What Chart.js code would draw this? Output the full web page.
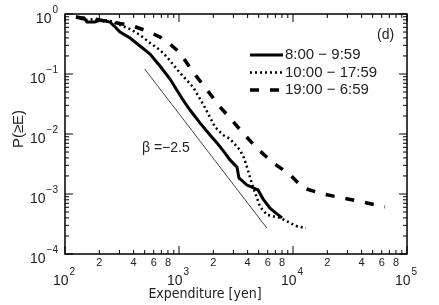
<!DOCTYPE html>
<html>
<head>
<meta charset="utf-8">
<script src="https://cdn.jsdelivr.net/npm/chart.js@4.4.1/dist/chart.umd.min.js"></script>
<style>
  body { margin: 0; background: #fff; }
  #wrap { width: 439px; height: 305px; }
</style>
</head>
<body>
<div id="wrap"><canvas id="ccdf"></canvas></div>
<script>
// series names
var seriesNames = ['8:00 \u2212 9:59', '10:00 \u2212 17:59', '19:00 \u2212 6:59'];

// 8:00 - 9:59
var morningE = [125, 147, 156, 183, 203, 224, 248, 275, 304, 372, 455, 557, 681, 834, 1084, 1249, 1527, 1870, 2154, 2533, 2800, 3228, 3358, 3948, 4930, 5455, 6283, 7096, 8016];
var morningP = [0.891, 0.858, 0.735, 0.735, 0.794, 0.764, 0.735, 0.607, 0.501, 0.398, 0.293, 0.215, 0.136, 0.0825, 0.0369, 0.0251, 0.0153, 0.0096, 0.0071, 0.0048, 0.0037, 0.0028, 0.00185, 0.00141, 0.00117, 0.00083, 0.00058, 0.00048, 0.0004];

// 10:00 - 17:59
var dayE = [125, 150, 183, 203, 238, 264, 304, 372, 455, 557, 681, 785, 1021, 1328, 1625, 2070, 2433, 2800, 3426, 3716, 3948, 4455, 4829, 5138, 5914, 7691, 10838, 13000];
var dayP = [0.891, 0.794, 0.825, 0.764, 0.794, 0.735, 0.655, 0.562, 0.447, 0.329, 0.251, 0.192, 0.104, 0.0607, 0.0316, 0.0131, 0.0096, 0.0083, 0.0054, 0.0040, 0.0028, 0.00131, 0.00086, 0.00061, 0.00045, 0.0004, 0.00029, 0.00027];

// 19:00 - 6:59
var nightE = [125, 150, 183, 248, 372, 524, 681, 834, 1021, 1328, 1762, 2291, 2800, 3637, 4829, 6683, 9423, 12250, 18330, 26900, 40300, 64100];
var nightP = [0.891, 0.825, 0.825, 0.735, 0.655, 0.521, 0.414, 0.316, 0.224, 0.108, 0.0541, 0.0282, 0.0185, 0.0104, 0.0058, 0.0033, 0.0021, 0.00126, 0.001, 0.00086, 0.00074, 0.00061];

// reference slope beta = -2.5
var slopeE = [500, 5900];
var slopeP = [0.121, 0.00027];

// axis ticks
var xDecades = [2, 3, 4, 5];      // 10^2 .. 10^5
var yDecades = [-4, -3, -2, -1, 0];
var minorSteps = [2, 3, 4, 5, 6, 7, 8, 9];
var xMinorLabels = [2, 4, 6, 8];

function pts(xs, ys) {
    return xs.map(function (x, i) { return { x: x, y: ys[i] }; });
}

var FONT = '"Liberation Sans", Arial, sans-serif';
var NARROW = '"Liberation Sans Narrow", "DejaVu Sans Condensed", "Liberation Sans", sans-serif';

var lineStyles = [
    { width: 3, dash: [] },
    { width: 2.5, dash: [2, 3] },
    { width: 3.5, dash: [9, 11] }
];

function pow10(label, x, y, align, c) {
    // draws "10" with a raised exponent
    c.font = '14px ' + FONT;
    var wb = c.measureText('10').width;
    c.font = '10px ' + FONT;
    var we = c.measureText(label).width;
    var left = align === 'right' ? x - wb - we - 1 : x - (wb + we + 1) / 2;
    c.textAlign = 'left';
    c.textBaseline = 'alphabetic';
    c.font = '14px ' + FONT;
    c.fillText('10', left, y);
    c.font = '10px ' + FONT;
    c.fillText(label, left + wb + 1, y - 10);
}

var frame = {
    id: 'frame',
    afterDraw: function (chart) {
        var c = chart.ctx, a = chart.chartArea;
        var xs = chart.scales.x, ys = chart.scales.y;
        c.save();
        c.strokeStyle = '#000';
        c.fillStyle = '#000';
        c.lineWidth = 1.5;
        c.strokeRect(a.left, a.top, a.right - a.left, a.bottom - a.top);

        c.lineWidth = 1;
        c.beginPath();
        // x ticks, bottom and top, pointing inward
        xDecades.forEach(function (d) {
            var px = xs.getPixelForValue(Math.pow(10, d));
            c.moveTo(px, a.bottom); c.lineTo(px, a.bottom - 8);
            c.moveTo(px, a.top); c.lineTo(px, a.top + 8);
            if (d === 5) return;
            minorSteps.forEach(function (m) {
                var p = xs.getPixelForValue(m * Math.pow(10, d));
                c.moveTo(p, a.bottom); c.lineTo(p, a.bottom - 4);
                c.moveTo(p, a.top); c.lineTo(p, a.top + 4);
            });
        });
        // y ticks, left and right
        yDecades.forEach(function (d) {
            var py = ys.getPixelForValue(Math.pow(10, d));
            c.moveTo(a.left, py); c.lineTo(a.left + 8, py);
            c.moveTo(a.right, py); c.lineTo(a.right - 8, py);
            if (d === 0) return;
            minorSteps.forEach(function (m) {
                var p = ys.getPixelForValue(m * Math.pow(10, d));
                c.moveTo(a.left, p); c.lineTo(a.left + 4, p);
                c.moveTo(a.right, p); c.lineTo(a.right - 4, p);
            });
        });
        c.stroke();

        // tick labels
        c.fillStyle = '#222';
        yDecades.forEach(function (d) {
            var py = ys.getPixelForValue(Math.pow(10, d));
            pow10(d === 0 ? '0' : '\u2212' + (-d), a.left - 7, py + 9, 'right', c);
        });
        xDecades.forEach(function (d) {
            var px = xs.getPixelForValue(Math.pow(10, d));
            pow10(String(d), px - 1, a.bottom + 31, 'center', c);
            if (d === 5) return;
            c.font = '11px ' + FONT;
            c.textAlign = 'center';
            xMinorLabels.forEach(function (m) {
                c.fillText(String(m), xs.getPixelForValue(m * Math.pow(10, d)), a.bottom + 12);
            });
        });

        // axis titles
        c.font = '14px ' + NARROW;
        c.textAlign = 'center';
        c.textBaseline = 'middle';
        c.fillText('Expenditure [yen]', 205, a.bottom + 40);
        c.save();
        c.translate(19, 129);
        c.rotate(-Math.PI / 2);
        c.font = '15px ' + FONT;
        c.fillText('P(\u2265E)', 0, 0);
        c.restore();

        // annotations
        c.font = '14px ' + FONT;
        c.textAlign = 'left';
        c.fillText('(d)', a.right - 30, a.top + 21);
        c.fillText('\u03B2 =\u22122.5', 142, 148);

        // legend
        c.font = '15px ' + FONT;
        seriesNames.forEach(function (name, i) {
            var y = a.top + 41 + i * 17.5;
            c.strokeStyle = '#000';
            c.lineWidth = lineStyles[i].width;
            c.setLineDash(lineStyles[i].dash);
            c.beginPath();
            c.moveTo(a.left + 185, y); c.lineTo(a.left + 218, y);
            c.stroke();
            c.setLineDash([]);
            c.fillText(name, a.left + 220, y);
        });
        c.restore();
    }
};

var ctx = document.getElementById('ccdf').getContext('2d');
new Chart(ctx, {
    type: 'line',
    data: {
        datasets: [
            {
                label: seriesNames[0],
                data: pts(morningE, morningP),
                borderColor: '#000',
                borderWidth: lineStyles[0].width
            },
            {
                label: seriesNames[1],
                data: pts(dayE, dayP),
                borderColor: '#000',
                borderWidth: lineStyles[1].width,
                borderDash: lineStyles[1].dash
            },
            {
                label: seriesNames[2],
                data: pts(nightE, nightP),
                borderColor: '#000',
                borderWidth: lineStyles[2].width,
                borderDash: lineStyles[2].dash
            },
            {
                label: 'beta',
                data: pts(slopeE, slopeP),
                borderColor: '#444',
                borderWidth: 1
            }
        ]
    },
    options: {
        responsive: true,
        maintainAspectRatio: false,
        animation: false,
        layout: { padding: { left: 65, right: 32, top: 14, bottom: 51 } },
        elements: { point: { radius: 0 }, line: { tension: 0, fill: false } },
        scales: {
            x: { type: 'logarithmic', min: 100, max: 100000, display: false },
            y: { type: 'logarithmic', min: 0.0001, max: 1, display: false }
        },
        plugins: { legend: { display: false }, tooltip: { enabled: false } }
    },
    plugins: [frame]
});
</script>
</body>
</html>
